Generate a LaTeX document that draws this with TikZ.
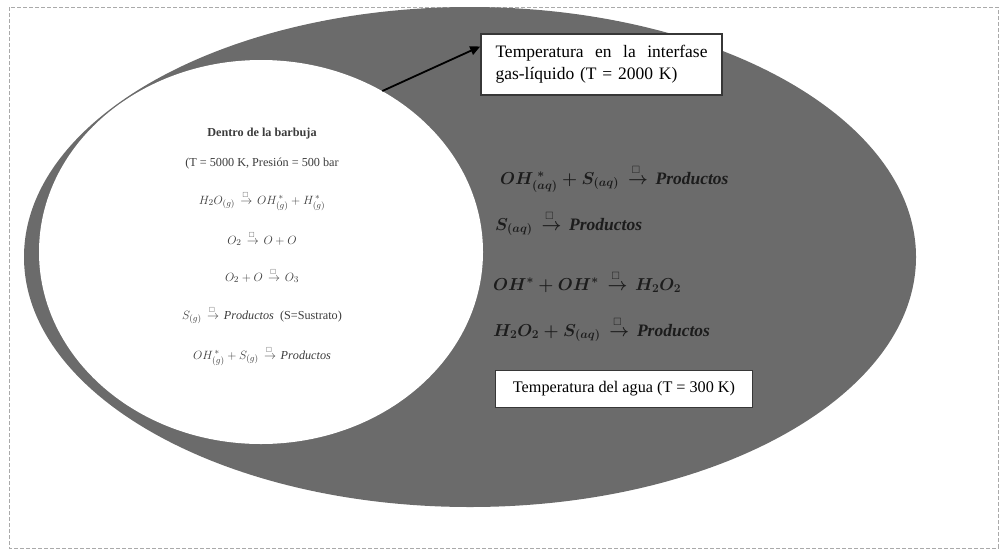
\documentclass[tikz,border=0pt]{standalone}
\usepackage{amsmath,amssymb}
\usepackage{graphicx}
\usepackage{fontspec}
\setmainfont{Liberation Serif}
\usetikzlibrary{shapes.geometric,arrows.meta}
\definecolor{waterfill}{RGB}{107,107,107}
\definecolor{eqtext}{RGB}{28,28,28}
\definecolor{innertext}{RGB}{60,60,60}
\definecolor{boxline}{RGB}{55,55,55}
\definecolor{frameline}{RGB}{170,170,170}
\newcommand{\sqto}{\mathrel{\mkern3mu\overset{\scalebox{0.6}{$\square$}}{\rightarrow}\mkern2mu}}
\tikzset{
  waterell/.style={ellipse, fill=waterfill, draw=none, inner sep=0pt,
    minimum width=892pt, minimum height=500pt},
  bubbleell/.style={ellipse, fill=white, draw=none, inner sep=0pt,
    minimum width=444pt, minimum height=384pt},
  labelbox/.style={rectangle, fill=white, draw=boxline, line width=1.6pt,
    inner sep=0pt},
  reqn/.style={anchor=base west, inner sep=0pt, text=eqtext,
    font=\fontsize{17.5}{20}\selectfont\boldmath},
  ieqn/.style={anchor=base, inner sep=0pt, text=innertext,
    font=\fontsize{12.2}{14}\selectfont},
  pointer/.style={draw=black, line width=1.8pt, -{Triangle[length=10pt,width=9pt]}},
  frame/.style={draw=frameline, line width=1pt, dash pattern=on 4pt off 2pt}
}
\begin{document}
\begin{tikzpicture}[x=1pt,y=-1pt]
\useasboundingbox (0,0) rectangle (1003,550);
\draw[frame] (9,7) rectangle (998,548);

\node[waterell] (water) at (470,257) {};
\node[bubbleell] (bub) at (261,252) {};

% inside the bubble
\node[ieqn] (title) at (262,136) {\textbf{Dentro de la barbuja}};
\node[ieqn] (cond) at (262,166) {(T = 5000 K, Presión = 500 bar};
\node[ieqn] (r1) at (262,204) {$H_2O_{(g)} \sqto OH_{(g)}^{\,*} + H_{(g)}^{\,*}$};
\node[ieqn] (r2) at (262,244) {$O_2 \sqto O + O$};
\node[ieqn] (r3) at (262,281) {$O_2 + O \sqto O_3$};
\node[ieqn] (r4) at (262,319) {$S_{(g)} \sqto \mathit{Productos}$\ \ (S=Sustrato)};
\node[ieqn] (r5) at (262,359) {$OH_{(g)}^{\,*} + S_{(g)} \sqto \mathit{Productos}$};

% in the water
\node[reqn] (w1) at (500,184) {$OH_{(aq)}^{\;*} + S_{(aq)} \sqto \mathit{Productos}$};
\node[reqn] (w2) at (495,230) {$S_{(aq)} \sqto \mathit{Productos}$};
\node[reqn] (w3) at (493,290) {$OH^{*} + OH^{*} \sqto H_2O_2$};
\node[reqn] (w4) at (493,336) {$H_2O_2 + S_{(aq)} \sqto \mathit{Productos}$};

% boxes
\node[labelbox, minimum width=241pt, minimum height=61pt, text width=212pt, align=left,
  font=\fontsize{17.5}{22}\selectfont]
  (iface) at (601.5,64.5) {Temperatura\hfill en\hfill la\hfill interfase\\gas-líquido (T = 2000 K)};
\node[labelbox, minimum width=257pt, minimum height=37pt,
  font=\fontsize{16.2}{20}\selectfont]
  (agua) at (624,389) {Temperatura del agua (T = 300 K)};

\draw[pointer] (bub.53) -- ([yshift=18pt]iface.west);
\end{tikzpicture}
\end{document}
